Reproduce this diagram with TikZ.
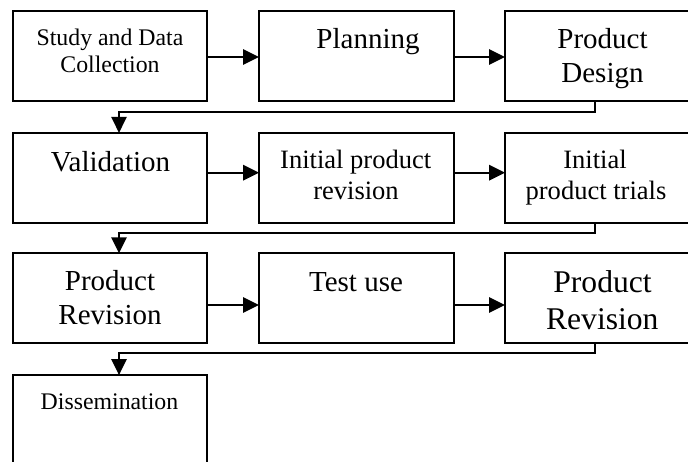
\documentclass[tikz,border=0pt]{standalone}
\usepackage{fontspec}
\setmainfont{Liberation Serif}
\usetikzlibrary{arrows.meta}

\begin{document}
\begin{tikzpicture}[x=0.75pt,y=-0.75pt,
  stage/.style={draw, rectangle, line width=1.5pt, inner sep=0pt, outer sep=0pt,
                minimum width=145.95pt, minimum height=67.4pt},
  txt/.style={anchor=base, inner sep=0pt},
  fsA/.style={font=\fontsize{17.85pt}{20pt}\selectfont},
  fsB/.style={font=\fontsize{19.9pt}{22pt}\selectfont},
  fsC/.style={font=\fontsize{21.75pt}{24pt}\selectfont},
  fsD/.style={font=\fontsize{23.7pt}{26pt}\selectfont},
  flow/.style={line width=1.7pt, -{Triangle[length=12pt,width=11.5pt]}},
  link/.style={line width=1.2pt, -{Triangle[length=12pt,width=11.5pt]}}
]
\useasboundingbox (0,0) rectangle (688,461);

% stage boxes, row by row
\node[stage] (s11) at (110,55.7) {};
\node[stage] (s12) at (356.3,55.7) {};
\node[stage] (s13) at (602.3,55.7) {};
\node[stage] (s21) at (110,177.8) {};
\node[stage] (s22) at (356.3,177.8) {};
\node[stage] (s23) at (602.3,177.8) {};
\node[stage] (s31) at (110,298.2) {};
\node[stage] (s32) at (356.3,298.2) {};
\node[stage] (s33) at (602.3,298.2) {};
\node[stage] (s41) at (110,420) {};

% box labels
\node[txt,fsA] (l11a) at (110,45) {Study and Data};
\node[txt,fsA] (l11b) at (110,72) {Collection};
\node[txt,fsC] (l12) at (368,48) {Planning};
\node[txt,fsC] (l13a) at (602.5,48) {Product};
\node[txt,fsC] (l13b) at (602.5,82) {Design};
\node[txt,fsC] (l21) at (110.5,171.7) {Validation};
\node[txt,fsB] (l22a) at (355.7,168.3) {Initial product};
\node[txt,fsB] (l22b) at (356,199.3) {revision};
\node[txt,fsB] (l23a) at (595,168.3) {Initial};
\node[txt,fsB] (l23b) at (596,199.3) {product trials};
\node[txt,fsC] (l31a) at (110,290) {Product};
\node[txt,fsC] (l31b) at (110,324.3) {Revision};
\node[txt,fsC] (l32) at (356,291.7) {Test use};
\node[txt,fsD] (l33a) at (602.5,292.7) {Product};
\node[txt,fsD] (l33b) at (602.3,329.3) {Revision};
\node[txt,fsA] (l41) at (109.5,409) {Dissemination};

% levels of the arrows inside each row
\coordinate (r1) at (0,57);
\coordinate (r2) at (0,172.7);
\coordinate (r3) at (0,305);
\draw[flow] (s11.east |- r1) -- (s12.west |- r1);
\draw[flow] (s12.east |- r1) -- (s13.west |- r1);
\draw[flow] (s21.east |- r2) -- (s22.west |- r2);
\draw[flow] (s22.east |- r2) -- (s23.west |- r2);
\draw[flow] (s31.east |- r3) -- (s32.west |- r3);
\draw[flow] (s32.east |- r3) -- (s33.west |- r3);

% return connectors from the end of a row to the start of the next
\coordinate (drop) at (595,0);
\coordinate (land) at (119,0);
\coordinate (h1) at (0,111.7);
\coordinate (h2) at (0,232.7);
\coordinate (h3) at (0,352.7);
\draw[link] (s13.south -| drop) -- (drop |- h1) -| (s21.north -| land);
\draw[link] (s23.south -| drop) -- (drop |- h2) -| (s31.north -| land);
\draw[link] (s33.south -| drop) -- (drop |- h3) -| (s41.north -| land);
\end{tikzpicture}
\end{document}
